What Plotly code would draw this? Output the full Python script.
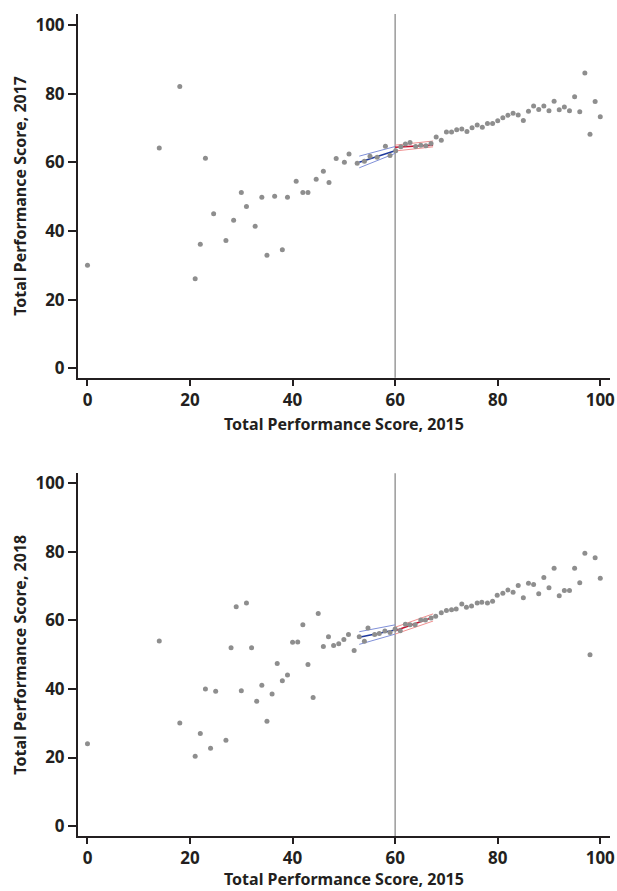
import plotly.graph_objects as go

# ---- Data: chart 1 (2015 vs 2017) ----
x_2015_a = [0, 14, 18, 21, 22, 23, 24.6, 27, 28.5, 30, 31, 32.7, 34, 35, 36.5, 38, 39, 40.7, 42, 43,
            44.6, 46, 47.1, 48.5, 50.1, 51, 52.6, 54, 55.1, 56.5, 58.1, 59, 60.1, 61.1, 62, 62.9, 64, 65,
            66, 67, 68, 69, 70, 71, 72, 73, 74, 75, 76, 77, 78, 79, 80, 81, 82, 83, 84, 85, 86, 87, 88,
            89, 90, 91, 92, 93, 94, 95, 96, 97, 98, 99, 100]
y_2017 = [30.0, 64.2, 82.1, 26.1, 36.1, 61.2, 45.0, 37.2, 43.1, 51.2, 47.1, 41.4, 49.8, 32.9, 50.1, 34.5,
          49.8, 54.5, 51.2, 51.2, 55.1, 57.4, 54.1, 61.1, 60.0, 62.4, 59.7, 60.3, 61.8, 61.5, 64.7, 62.0,
          63.4, 64.5, 65.3, 65.8, 64.6, 65.0, 64.8, 65.5, 67.4, 66.4, 68.8, 68.8, 69.5, 69.7, 69.0, 70.1,
          70.9, 70.2, 71.3, 71.3, 72.1, 73.0, 73.7, 74.3, 73.8, 72.2, 74.9, 76.4, 75.4, 76.4, 75.0, 77.8,
          75.3, 76.1, 75.0, 79.1, 74.7, 86.0, 68.2, 77.7, 73.3]

# ---- Data: chart 2 (2015 vs 2018) ----
x_2015_b = [0, 14, 18, 21, 22, 23, 24, 25, 27, 28, 29, 30, 31, 32, 33, 34, 35, 36, 37, 38, 39, 40, 41, 42,
            43, 44, 45, 46, 47, 48, 49, 50, 50.9, 52, 53, 54, 54.7, 56, 56.9, 58, 59, 60, 61, 62, 62.9, 63.9,
            65, 65.9, 67, 67.9, 69, 70, 71, 71.9, 73, 73.9, 74.9, 76, 76.9, 78, 79, 79.9, 81, 82, 83, 84,
            85, 86, 87, 88, 89, 90, 91, 92, 93, 94, 95, 96, 97, 98, 99, 100]
y_2018 = [24.0, 54.0, 30.1, 20.4, 27.0, 40.0, 22.7, 39.3, 25.0, 52.0, 64.0, 39.5, 65.1, 52.0, 36.4, 41.1,
          30.6, 38.5, 47.4, 42.4, 44.1, 53.6, 53.7, 58.7, 47.1, 37.5, 62.0, 52.4, 55.2, 52.7, 53.2, 54.4,
          55.9, 51.2, 55.2, 53.9, 57.8, 55.9, 56.2, 56.9, 56.5, 57.5, 57.0, 58.9, 58.7, 58.7, 60.1, 60.1,
          60.7, 61.2, 62.2, 62.9, 63.1, 63.3, 64.8, 63.8, 64.2, 65.1, 65.3, 65.1, 65.6, 67.3, 67.9, 68.9,
          68.2, 70.2, 66.6, 70.8, 70.5, 67.8, 72.5, 69.5, 75.2, 67.2, 68.7, 68.7, 75.2, 71.0, 79.6, 50.0,
          78.3, 72.3]

# ---- Local linear fits ----
fit_left_x = [53, 60]
fit_right_x = [60, 67.4]
fitA_left = [60.0, 63.4]
fitA_left_hi = [61.8, 64.6]
fitA_left_lo = [58.4, 62.6]
fitA_right = [64.4, 65.0]
fitA_right_hi = [65.0, 66.2]
fitA_right_lo = [63.3, 64.5]
fitB_left = [55.1, 57.2]
fitB_left_hi = [56.7, 58.7]
fitB_left_lo = [53.0, 56.0]
fitB_right = [57.0, 60.9]
fitB_right_hi = [58.0, 61.9]
fitB_right_lo = [56.0, 59.8]

cutoff = 60
ticks = [0, 20, 40, 60, 80, 100]
x_title = "Total Performance Score, 2015"
y_title_a = "Total Performance Score, 2017"
y_title_b = "Total Performance Score, 2018"

DARK = "#231f20"
PT = "#8e8e8e"
BLUE, BLUE_L = "#1f3a9e", "#8090d8"
RED, RED_L = "#c8102e", "#f09090"

fig = go.Figure()


def add_panel(xs, ys, xa, ya, fl, flh, fll, fr, frh, frl):
    for yy, c, w in [(flh, BLUE_L, 1), (fll, BLUE_L, 1), (fl, BLUE, 1.6)]:
        fig.add_trace(go.Scatter(x=fit_left_x, y=yy, mode="lines", line=dict(color=c, width=w),
                                 xaxis=xa, yaxis=ya, showlegend=False, hoverinfo="skip"))
    for yy, c, w in [(frh, RED_L, 1), (frl, RED_L, 1), (fr, RED, 1.6)]:
        fig.add_trace(go.Scatter(x=fit_right_x, y=yy, mode="lines", line=dict(color=c, width=w),
                                 xaxis=xa, yaxis=ya, showlegend=False, hoverinfo="skip"))
    fig.add_trace(go.Scatter(x=xs, y=ys, mode="markers", marker=dict(color=PT, size=5),
                             xaxis=xa, yaxis=ya, showlegend=False))


add_panel(x_2015_a, y_2017, "x", "y", fitA_left, fitA_left_hi, fitA_left_lo,
          fitA_right, fitA_right_hi, fitA_right_lo)
add_panel(x_2015_b, y_2018, "x2", "y2", fitB_left, fitB_left_hi, fitB_left_lo,
          fitB_right, fitB_right_hi, fitB_right_lo)

tickfont = dict(family="Noto Sans", size=17, color=DARK, weight="bold")
titlefont = dict(family="Noto Sans", size=16, color=DARK, weight="bold")

axis_common = dict(showgrid=False, zeroline=False, showline=True, linecolor=DARK, linewidth=2,
                   ticks="outside", tickwidth=2, tickcolor=DARK, tickfont=tickfont,
                   tickvals=ticks, fixedrange=True, automargin=False)

TOP_LO, BOT_HI = 0.5575, 0.4412

fig.update_layout(
    width=617, height=891,
    margin=dict(l=78, r=7, t=14, b=55),
    plot_bgcolor="white", paper_bgcolor="white",
    hovermode=False,
    xaxis=dict(axis_common, ticklen=6, domain=[0, 1], anchor="y", range=[-1.85, 101.9]),
    yaxis=dict(axis_common, ticklen=8, domain=[TOP_LO, 1], anchor="x", range=[-2.75, 103.2]),
    xaxis2=dict(axis_common, ticklen=6, domain=[0, 1], anchor="y2", range=[-1.85, 101.9]),
    yaxis2=dict(axis_common, ticklen=8, domain=[0, BOT_HI], anchor="x2", range=[-2.9, 102.9]),
)

ann = []
for ybot, ymid, yt, ysh in [(TOP_LO, (TOP_LO + 1) / 2, y_title_a, -46), (0, BOT_HI / 2, y_title_b, -43)]:
    ann.append(dict(text=x_title, xref="paper", yref="paper", x=0.5, y=ybot, yshift=ysh,
                    xanchor="center", yanchor="middle", showarrow=False, font=titlefont))
    ann.append(dict(text=yt, xref="paper", yref="paper", x=0, y=ymid, xshift=-58,
                    xanchor="center", yanchor="middle", textangle=-90, showarrow=False,
                    font=titlefont))
fig.update_layout(annotations=ann)

for xa, ya in [("x", "y"), ("x2", "y2")]:
    fig.add_shape(type="line", xref=xa, yref=ya + " domain", x0=cutoff, x1=cutoff, y0=0, y1=1,
                  line=dict(color="#9a9a9a", width=1.5), layer="below")

# remove the default 8px page margin so the 617x891 figure fills the window exactly
fig.write_html("out.html", config={"displayModeBar": False},
               post_script="document.body.style.margin='0';document.body.style.overflow='hidden';")
